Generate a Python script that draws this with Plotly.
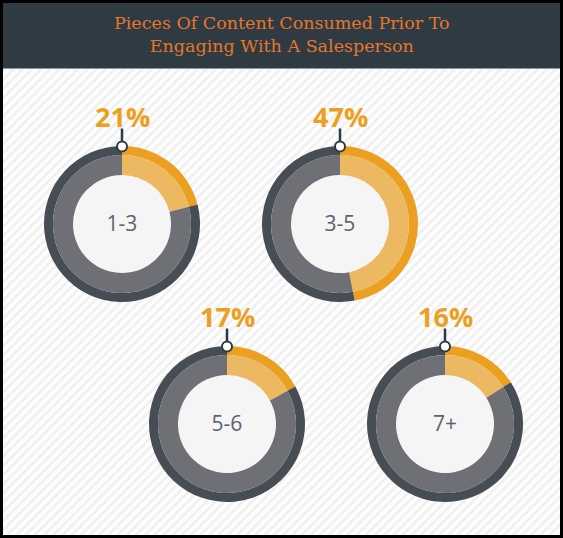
import plotly.graph_objects as go

# ---- data ----
categories = ["1-3", "3-5", "5-6", "7+"]
percentages = [21, 47, 17, 16]
title_lines = ["Pieces Of Content Consumed Prior To", "Engaging With A Salesperson"]

# ---- layout constants ----
W, H = 563, 538
centers = [(122, 224), (340, 224), (227, 424), (445, 424)]
R_OUT, R_MID, R_HOLE = 78, 69, 49

ORANGE_DARK = "#eba021"
ORANGE_LIGHT = "#ecb862"
GRAY_DARK = "#474d55"
GRAY_MID = "#6f7075"
CENTER_FILL = "#f5f5f5"
HEADER = "#2f3a42"


def domain(cx, cy, r):
    return dict(x=[(cx - r) / W, (cx + r) / W], y=[1 - (cy + r) / H, 1 - (cy - r) / H])


fig = go.Figure()

# striped background
fig.add_trace(go.Scatter(
    x=[3, 560, 560, 3, 3], y=[69, 69, 535, 535, 69], mode="lines",
    fill="toself", line=dict(width=0), fillcolor="rgba(0,0,0,0)",
    fillpattern=dict(shape="/", fgcolor="#e2e2e2", bgcolor="#fdfdfd", size=6.5, solidity=0.4),
    hoverinfo="skip", showlegend=False,
))

for cat, p, (cx, cy) in zip(categories, percentages, centers):
    # centre disc
    fig.add_trace(go.Pie(
        values=[1], domain=domain(cx, cy, R_HOLE), marker=dict(colors=[CENTER_FILL]),
        textinfo="none", hoverinfo="skip", showlegend=False, sort=False,
    ))
    # outer band
    fig.add_trace(go.Pie(
        values=[p, 100 - p], domain=domain(cx, cy, R_OUT), hole=R_MID / R_OUT,
        marker=dict(colors=[ORANGE_DARK, GRAY_DARK], line=dict(width=0)),
        direction="clockwise", sort=False, rotation=0,
        textinfo="none", hoverinfo="skip", showlegend=False,
    ))
    # inner band with centre label
    fig.add_trace(go.Pie(
        values=[p, 100 - p], domain=domain(cx, cy, R_MID), hole=R_HOLE / R_MID,
        marker=dict(colors=[ORANGE_LIGHT, GRAY_MID], line=dict(width=0)),
        direction="clockwise", sort=False, rotation=0,
        textinfo="none", hoverinfo="skip", showlegend=False,
        title=dict(text=cat, position="middle center",
                   font=dict(family="Open Sans", size=21, color="#5c6370")),
    ))

shapes = [
    # header bar
    dict(type="rect", xref="paper", yref="paper", x0=3 / W, x1=(W - 3) / W,
         y0=1 - 68 / H, y1=1 - 3 / H, fillcolor=HEADER, line=dict(width=0), layer="below"),
    dict(type="line", xref="paper", yref="paper", x0=3 / W, x1=(W - 3) / W,
         y0=1 - 68.5 / H, y1=1 - 68.5 / H, line=dict(color="#8e969b", width=1), layer="below"),
]
annotations = []
for p, (cx, cy) in zip(percentages, centers):
    top = cy - R_OUT + 0.5
    shapes.append(dict(type="line", xref="x", yref="y", x0=cx, x1=cx, y0=top - 18, y1=top - 4,
                       line=dict(color=HEADER, width=2.5), layer="above"))
    shapes.append(dict(type="circle", xref="x", yref="y", x0=cx - 5, x1=cx + 5, y0=top - 5, y1=top + 5,
                       fillcolor="white", line=dict(color=HEADER, width=2), layer="above"))
    annotations.append(dict(x=cx, y=cy - 108, xref="x", yref="y", text=f"<b>{p}%</b>",
                            showarrow=False, font=dict(family="Open Sans", size=27, color=ORANGE_DARK)))

annotations.append(dict(x=0.5, y=1 - 34.5 / H, xref="paper", yref="paper", yanchor="middle",
                        xanchor="center", text="<br>".join(title_lines), showarrow=False,
                        font=dict(family="DejaVu Serif", size=17.5, color="#e5772b")))

fig.update_layout(
    width=W, height=H, margin=dict(l=0, r=0, t=0, b=0),
    paper_bgcolor="black", plot_bgcolor="rgba(0,0,0,0)",
    xaxis=dict(range=[0, W], visible=False, fixedrange=True),
    yaxis=dict(range=[H, 0], visible=False, fixedrange=True),
    shapes=shapes, annotations=annotations, showlegend=False,
)

fig.write_html("out.html")
